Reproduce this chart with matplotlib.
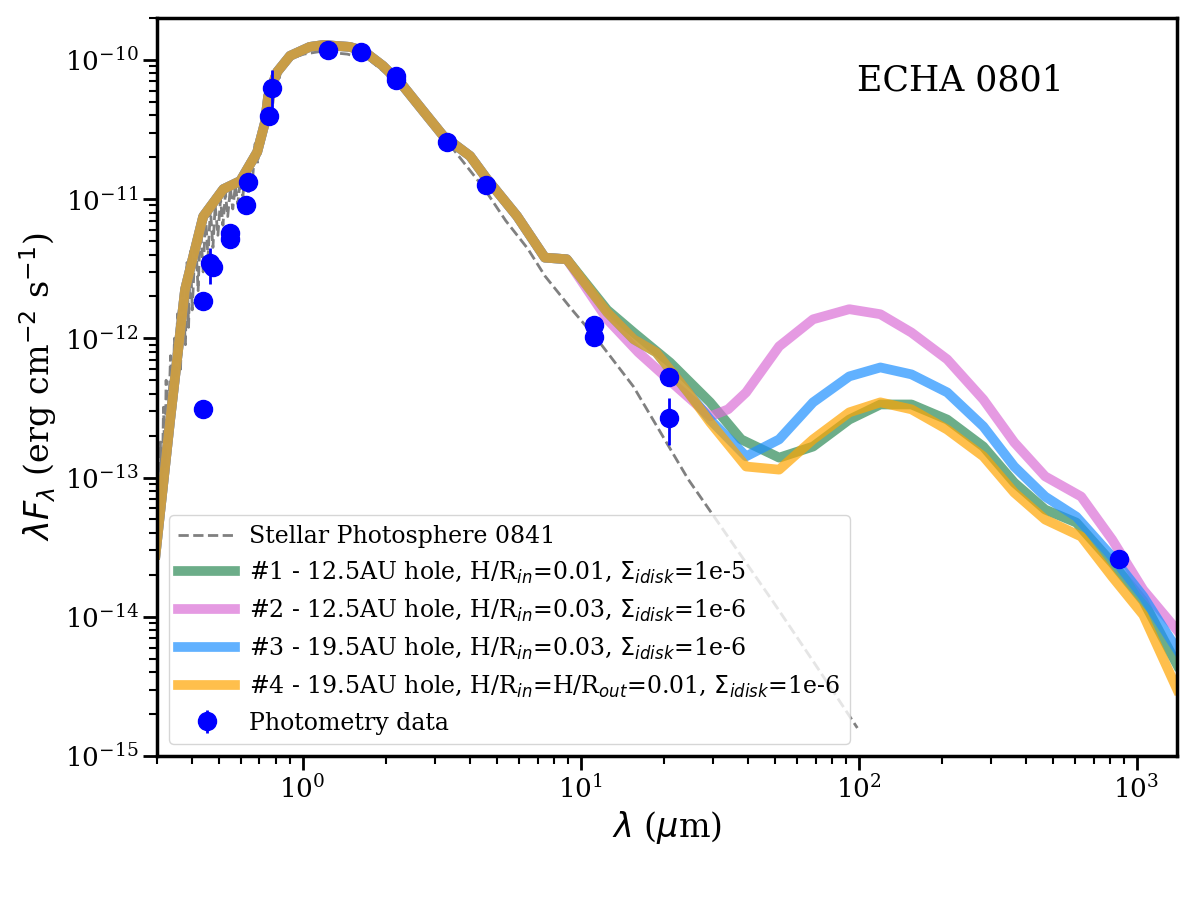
import matplotlib
matplotlib.use('Agg')
import matplotlib.pyplot as plt
import numpy as np

plt.rcParams['font.family'] = ['DejaVu Serif']
plt.rcParams['mathtext.fontset'] = 'dejavusans'

# photometry (micron, erg cm-2 s-1)
phot_wl = [0.44, 0.44, 0.465, 0.476, 0.55, 0.55, 0.627, 0.638, 0.759, 0.778,
           1.235, 1.62, 2.17, 2.17, 3.31, 4.58, 11.2, 11.2, 20.8, 20.8, 865]
phot_flux = [1.85e-12, 3.1e-13, 3.47e-12, 3.26e-12, 5.69e-12, 5.2e-12,
             9.06e-12, 1.32e-11, 3.96e-11, 6.3e-11, 1.18e-10, 1.14e-10,
             7.67e-11, 7.18e-11, 2.57e-11, 1.26e-11, 1.24e-12, 1.03e-12,
             5.25e-13, 2.7e-13, 2.6e-14]
phot_err = [0, 0, 1.0e-12, 0, 0, 0, 0, 2.0e-12, 0, 2.2e-11,
            0, 0, 0, 0, 0, 0, 0, 0, 0, 1.0e-13, 0]

# stellar photosphere (noisy optical spectrum + smooth tail)
star_wl = [0.290, 0.301, 0.305, 0.308, 0.312, 0.316, 0.320, 0.323, 0.328, 0.335,
           0.341, 0.346, 0.349, 0.355, 0.364, 0.370, 0.379, 0.384, 0.389, 0.395,
           0.401, 0.412, 0.421, 0.429, 0.439, 0.448, 0.457, 0.466, 0.476, 0.485,
           0.496, 0.507, 0.517, 0.528, 0.538, 0.550, 0.561, 0.573, 0.585, 0.597,
           0.610, 0.622, 0.635, 0.648, 0.662, 0.675, 0.690, 0.704, 0.719, 0.733,
           0.749, 0.764, 0.780, 0.797, 0.813, 0.830, 0.866, 0.902, 0.940, 1.01,
           1.16, 1.45, 1.74, 2.13, 2.72, 3.31, 4.49, 5.38, 6.46, 7.45,
           9.33, 11.5, 15.5, 24.4, 30.3, 49.7, 69.6, 99]
star_flux = [2.0e-14, 9.0e-14, 3.0e-14, 1.8e-13, 6.0e-14, 3.2e-13, 1.2e-13, 5.0e-13, 1.8e-13, 7.5e-13,
             3.0e-13, 1.0e-12, 4.0e-13, 1.5e-12, 6.0e-13, 2.2e-12, 9.0e-13, 3.5e-12, 1.2e-12, 4.2e-12,
             1.6e-12, 5.5e-12, 2.2e-12, 6.5e-12, 3.0e-12, 7.5e-12, 3.8e-12, 8.5e-12, 4.5e-12, 9.0e-12,
             5.5e-12, 1.0e-11, 6.5e-12, 1.1e-11, 7.5e-12, 1.2e-11, 8.5e-12, 1.25e-11, 9.2e-12, 1.4e-11,
             1.05e-11, 1.6e-11, 1.2e-11, 1.9e-11, 1.45e-11, 2.5e-11, 1.8e-11, 3.0e-11, 2.5e-11, 4.0e-11,
             3.4e-11, 5.5e-11, 4.7e-11, 7.0e-11, 6.0e-11, 8.0e-11, 9.0e-11, 1.0e-10, 1.05e-10, 1.1e-10,
             1.15e-10, 1.1e-10, 1.0e-10, 7.2e-11, 4.0e-11, 2.6e-11, 1.2e-11, 7.0e-12, 4.4e-12, 2.8e-12,
             1.6e-12, 9.8e-13, 4.5e-13, 9.7e-14, 5.2e-14, 1.25e-14, 4.6e-15, 1.59e-15]

# models: shared short-wavelength part
base_wl = [0.296, 0.334, 0.378, 0.439, 0.519, 0.597, 0.687, 0.733, 0.752, 0.810,
           0.902, 1.061, 1.188, 1.48, 1.655, 1.948, 2.299, 2.809, 3.21, 4.005,
           4.61, 5.91, 7.44, 8.92]
base_flux = [2.8e-14, 2.6e-13, 2.25e-12, 7.5e-12, 1.18e-11, 1.35e-11, 2.18e-11, 3.58e-11, 5.5e-11, 8.2e-11,
             1.07e-10, 1.24e-10, 1.28e-10, 1.24e-10, 1.16e-10, 9.05e-11, 6.5e-11, 3.95e-11, 2.84e-11, 2.04e-11,
             1.39e-11, 7.55e-12, 3.8e-12, 3.7e-12]

m1_wl = [12.47, 15.54, 21.0, 29.25, 37.83, 51.8, 68.6, 92.6, 119.8, 155, 208.4, 281, 363, 469, 607, 817, 1057, 1400]
m1_flux = [1.6e-12, 1.1e-12, 6.7e-13, 3.47e-13, 1.88e-13, 1.39e-13, 1.67e-13, 2.61e-13, 3.35e-13,
           3.35e-13, 2.61e-13, 1.67e-13, 9.2e-14, 5.89e-14, 4.75e-14, 2.44e-14, 1.3e-14, 4.5e-15]

m2_wl = [12.47, 16.14, 22.69, 29.25, 33.94, 39.4, 51.8, 68.6, 92.6, 119.8, 155, 208.4, 281, 363, 469, 632, 817, 1057, 1400]
m2_flux = [1.37e-12, 7.93e-13, 4.3e-13, 2.75e-13, 3.09e-13, 4.09e-13, 8.76e-13, 1.37e-12, 1.62e-12,
           1.49e-12, 1.1e-12, 7.06e-13, 3.64e-13, 1.79e-13, 1.02e-13, 7.3e-14, 3.58e-14, 1.56e-14, 8.0e-15]

m3_wl = [12.47, 15.54, 18.72, 24.37, 29.25, 39.4, 51.8, 68.6, 92.6, 119.8, 155, 208.4, 281, 363, 469, 607, 817, 1057, 1400]
m3_flux = [1.54e-12, 9.84e-13, 7.93e-13, 4.09e-13, 2.6e-13, 1.42e-13, 1.88e-13, 3.47e-13, 5.33e-13,
           6.18e-13, 5.51e-13, 4.09e-13, 2.33e-13, 1.2e-13, 7.3e-14, 5.24e-14, 2.7e-14, 1.4e-14, 5.8e-15]

m4_wl = [12.47, 15.54, 18.72, 24.37, 29.25, 39.4, 51.8, 68.6, 92.6, 119.8, 155, 208.4, 281, 363, 469, 632, 817, 1057, 1400]
m4_flux = [1.54e-12, 9.84e-13, 7.93e-13, 4.09e-13, 2.49e-13, 1.2e-13, 1.14e-13, 1.88e-13, 2.94e-13,
           3.47e-13, 3.09e-13, 2.21e-13, 1.42e-13, 7.8e-14, 4.99e-14, 3.77e-14, 1.94e-14, 1.03e-14, 3.0e-15]

labels = [r'#1 - 12.5AU hole, H/R$_{in}$=0.01, $\Sigma_{idisk}$=1e-5',
          r'#2 - 12.5AU hole, H/R$_{in}$=0.03, $\Sigma_{idisk}$=1e-6',
          r'#3 - 19.5AU hole, H/R$_{in}$=0.03, $\Sigma_{idisk}$=1e-6',
          r'#4 - 19.5AU hole, H/R$_{in}$=H/R$_{out}$=0.01, $\Sigma_{idisk}$=1e-6']
colors = ['seagreen', 'orchid', 'dodgerblue', 'orange']


def main():
    fig = plt.figure(figsize=(12, 9), dpi=100)
    ax = fig.add_axes([0.131, 0.16, 0.85, 0.82])

    ax.plot(star_wl, star_flux, '--', color='gray', lw=2, label='Stellar Photosphere 0841')

    models = [(m1_wl, m1_flux), (m2_wl, m2_flux), (m3_wl, m3_flux), (m4_wl, m4_flux)]
    for (wl, fl), c, lab in zip(models, colors, labels):
        ax.plot(base_wl + wl, base_flux + fl, '-', color=c, lw=7, alpha=0.7, label=lab)

    ax.errorbar(phot_wl, phot_flux, yerr=phot_err, fmt='o', color='blue', ms=13,
                elinewidth=2, capsize=0, label='Photometry data', zorder=5)

    ax.set_xscale('log')
    ax.set_yscale('log')
    ax.set_xlim(0.3, 1400)
    ax.set_ylim(1e-15, 2e-10)

    ax.set_xlabel(r'$\lambda$ ($\mu$m)', fontsize=24)
    ax.set_ylabel(r'$\lambda F_\lambda$ (erg cm$^{-2}$ s$^{-1}$)', fontsize=24)
    ax.text(0.787, 0.915, 'ECHA 0801', transform=ax.transAxes, fontsize=25,
            ha='center', va='center')

    ax.tick_params(which='major', direction='out', length=10, width=2, labelsize=19)
    ax.tick_params(which='minor', direction='out', length=6, width=1.5)
    for s in ax.spines.values():
        s.set_linewidth(2.5)

    ax.legend(loc='lower left', fontsize=17, handlelength=2.4, handletextpad=0.6)

    fig.savefig('out.png', dpi=100)


if __name__ == '__main__':
    main()
